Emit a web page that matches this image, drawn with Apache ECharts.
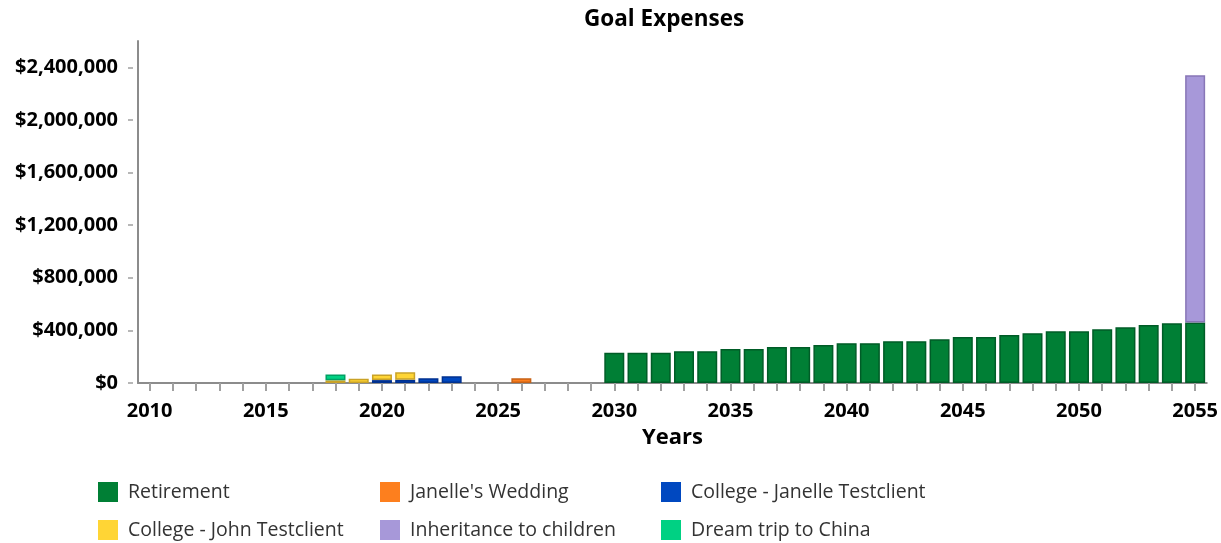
<!DOCTYPE html>
<html>
<head>
<meta charset="utf-8">
<title>Goal Expenses</title>
<script src="https://cdn.jsdelivr.net/npm/echarts@6/dist/echarts.min.js"></script>
<style>
  html, body { margin: 0; padding: 0; background: #ffffff; }
  #chart { width: 1221px; height: 543px; }
</style>
</head>
<body>
<div id="chart"></div>
<script>
// Years shown on the category axis
const years = [];
for (let y = 2010; y <= 2055; y++) years.push(String(y));

// Goal expenses per year (USD); each list starts at the given first year
const retirementStart = 2030;
const retirement = [230000, 230000, 230000, 242000, 242000, 258000, 258000, 273000, 273000, 288000,
                    303000, 303000, 318000, 318000, 333000, 349000, 349000, 364000, 379000, 394000,
                    394000, 409000, 424000, 440000, 455000, 460000];
const weddingStart = 2026;
const wedding = [36000];
const collegeJanelleStart = 2020;
const collegeJanelle = [22000, 25000, 36000, 51000];
const collegeJohnStart = 2018;
const collegeJohn = [20000, 32000, 43000, 56000];
const inheritanceStart = 2055;
const inheritance = [1880000];
const dreamTripStart = 2018;
const dreamTrip = [44000];

// Y axis tick values
const yTicks = [0, 400000, 800000, 1200000, 1600000, 2000000, 2400000];

// Spread a list that begins at startYear across the full year axis
function spread(startYear, values) {
  return years.map(function (y) {
    const i = Number(y) - startYear;
    return (i >= 0 && i < values.length) ? values[i] : null;
  });
}

const FONT = '"Open Sans", "Noto Sans", sans-serif';

const goals = [
  { name: 'Retirement', data: spread(retirementStart, retirement), color: '#007f35', border: '#005c27' },
  { name: "Janelle's Wedding", data: spread(weddingStart, wedding), color: '#fd7f1e', border: '#c86216' },
  { name: 'College - Janelle Testclient', data: spread(collegeJanelleStart, collegeJanelle), color: '#0048c0', border: '#003190' },
  { name: 'College - John Testclient', data: spread(collegeJohnStart, collegeJohn), color: '#ffd535', border: '#c9a227' },
  { name: 'Inheritance to children', data: spread(inheritanceStart, inheritance), color: '#a798d9', border: '#8876b6' },
  { name: 'Dream trip to China', data: spread(dreamTripStart, dreamTrip), color: '#00d183', border: '#00a064' }
];

function money(v) {
  return '$' + v.toLocaleString('en-US');
}

const legendBase = {
  orient: 'vertical',
  top: 482,
  itemWidth: 20,
  itemHeight: 20,
  itemGap: 18,
  padding: 0,
  icon: 'rect',
  itemStyle: { borderWidth: 0 },
  textStyle: { fontFamily: FONT, fontSize: 19.5, color: '#333333', padding: [0, 0, 0, 5] }
};

const chart = echarts.init(document.getElementById('chart'), null, { renderer: 'canvas' });

chart.setOption({
  animation: false,
  backgroundColor: '#ffffff',
  title: {
    text: 'Goal Expenses',
    left: 584,
    top: 8,
    padding: 0,
    textStyle: { fontFamily: FONT, fontSize: 22.5, fontWeight: 'bold', color: '#000000' }
  },
  legend: [
    Object.assign({}, legendBase, { left: 98, data: [goals[0].name, goals[3].name] }),
    Object.assign({}, legendBase, { left: 380, data: [goals[1].name, goals[4].name] }),
    Object.assign({}, legendBase, { left: 661, data: [goals[2].name, goals[5].name] })
  ],
  grid: { left: 138, right: 13, top: 41, bottom: 160, containLabel: false },
  xAxis: {
    type: 'category',
    data: years,
    boundaryGap: true,
    name: 'Years',
    nameLocation: 'middle',
    nameGap: 44,
    nameTextStyle: { fontFamily: FONT, fontSize: 22, fontWeight: 'bold', color: '#000000' },
    axisLine: { show: true, lineStyle: { color: '#8c8c8c', width: 2 } },
    axisTick: { show: true, alignWithLabel: true, interval: 0, length: 8, lineStyle: { color: '#a0a0a0', width: 2 } },
    axisLabel: { interval: 4, margin: 18, fontFamily: FONT, fontSize: 20, fontWeight: 'bold', color: '#000000' },
    splitLine: { show: false }
  },
  yAxis: {
    type: 'value',
    min: 0,
    max: 2600000,
    interval: 400000,
    axisLine: { show: true, lineStyle: { color: '#8c8c8c', width: 2 } },
    axisTick: {
      show: true,
      length: 10,
      customValues: yTicks,
      lineStyle: { color: '#a0a0a0', width: 1.5, type: [5, 5], dashOffset: 5 }
    },
    axisLabel: {
      customValues: yTicks,
      margin: 20,
      fontFamily: FONT,
      fontSize: 20,
      fontWeight: 'bold',
      color: '#000000',
      formatter: money
    },
    splitLine: { show: false }
  },
  series: goals.map(function (g) {
    return {
      name: g.name,
      type: 'bar',
      stack: 'goals',
      barWidth: 20,
      data: g.data,
      itemStyle: { color: g.color, borderColor: g.border, borderWidth: 1.5 },
      emphasis: { disabled: true }
    };
  })
});
</script>
</body>
</html>
